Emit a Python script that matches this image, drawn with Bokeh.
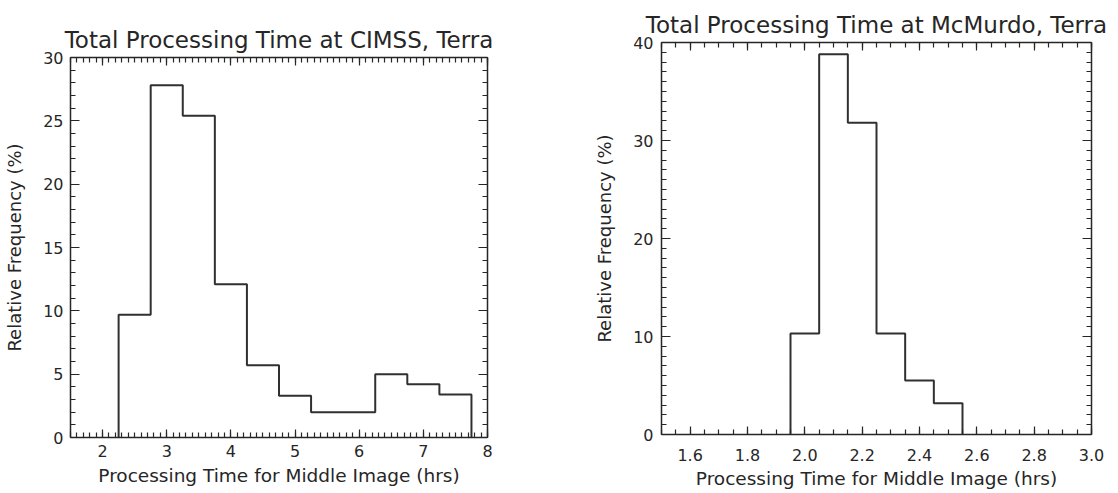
from bokeh.plotting import figure
from bokeh.layouts import row, column
from bokeh.models import (Range1d, SingleIntervalTicker, LinearAxis, Spacer,
                          CustomJSTickFormatter, PrintfTickFormatter)
from bokeh.embed import file_html
from bokeh.resources import INLINE
import numpy as np

# ---- data ----
cimss_edges = [2.25, 2.75, 3.25, 3.75, 4.25, 4.75, 5.25, 5.75, 6.25, 6.75, 7.25, 7.75]
cimss_freq = [9.7, 27.8, 25.4, 12.1, 5.7, 3.3, 2.0, 2.0, 5.0, 4.2, 3.4]

mcm_edges = [1.95, 2.05, 2.15, 2.25, 2.35, 2.45, 2.55]
mcm_freq = [10.3, 38.8, 31.8, 10.3, 5.5, 3.2]

title_left = "Total Processing Time at CIMSS, Terra"
title_right = "Total Processing Time at McMurdo, Terra"
x_label = "Processing Time for Middle Image (hrs)"
y_label = "Relative Frequency (%)"

FONT = "DejaVu Sans"
INK = "#262626"


def stairs(edges, vals):
    xs = np.repeat(np.asarray(edges, float), 2)
    ys = np.concatenate([[0.0], np.repeat(np.asarray(vals, float), 2), [0.0]])
    return xs, ys


def style_axis(ax, major_in, minor_in):
    ax.major_tick_in = major_in
    ax.major_tick_out = 0
    ax.minor_tick_in = minor_in
    ax.minor_tick_out = 0
    ax.axis_line_color = INK
    ax.axis_line_width = 1.5
    ax.major_tick_line_color = INK
    ax.minor_tick_line_color = INK
    ax.major_tick_line_width = 1.2
    ax.minor_tick_line_width = 1.2


def make(edges, vals, xr, yr, xint, xminor, yint, yminor, title, fw, fh,
         bl, br, bt, bb, xfmt, ylab_stand, yt_stand, xt_stand, xlab_stand):
    p = figure(frame_width=fw, frame_height=fh,
               x_range=Range1d(*xr), y_range=Range1d(*yr),
               output_backend="svg", toolbar_location=None,
               min_border_left=bl, min_border_right=br,
               min_border_top=bt, min_border_bottom=bb,
               title=title)
    p.grid.visible = False
    p.outline_line_color = None
    p.background_fill_color = "white"
    p.border_fill_color = "white"

    p.title.text_font = FONT
    p.title.text_font_size = "23px"
    p.title.text_font_style = "normal"
    p.title.text_color = INK
    p.title.align = "center"
    p.title.standoff = 10

    xt = SingleIntervalTicker(interval=xint, num_minor_ticks=xminor)
    yt = SingleIntervalTicker(interval=yint, num_minor_ticks=yminor)

    xa = p.xaxis[0]
    xa.ticker = xt
    if xfmt:
        xa.formatter = PrintfTickFormatter(format=xfmt)
    xa.axis_label = x_label
    xa.axis_label_text_font = FONT
    xa.axis_label_text_font_size = "18.5px"
    xa.axis_label_text_font_style = "normal"
    xa.axis_label_text_color = INK
    xa.axis_label_standoff = xlab_stand
    xa.major_label_text_font = FONT
    xa.major_label_text_font_size = "16px"
    xa.major_label_text_color = INK
    xa.major_label_standoff = xt_stand
    style_axis(xa, 8, 5)

    ya = p.yaxis[0]
    ya.ticker = yt
    ya.axis_label = y_label
    ya.axis_label_text_font = FONT
    ya.axis_label_text_font_size = "18px"
    ya.axis_label_text_font_style = "normal"
    ya.axis_label_text_color = INK
    ya.axis_label_standoff = ylab_stand
    ya.major_label_text_font = FONT
    ya.major_label_text_font_size = "16px"
    ya.major_label_text_color = INK
    ya.major_label_standoff = yt_stand
    style_axis(ya, 9, 5)

    blank = CustomJSTickFormatter(code="return ''")
    top = LinearAxis(ticker=SingleIntervalTicker(interval=xint, num_minor_ticks=xminor),
                     formatter=blank, major_label_standoff=0,
                     major_label_text_font_size="1px")
    style_axis(top, 8, 5)
    p.add_layout(top, "above")
    right = LinearAxis(ticker=SingleIntervalTicker(interval=yint, num_minor_ticks=yminor),
                       formatter=blank, major_label_standoff=0,
                       major_label_text_font_size="1px")
    style_axis(right, 9, 5)
    p.add_layout(right, "right")

    xs, ys = stairs(edges, vals)
    p.line(xs, ys, line_color="#303030", line_width=2)
    return p


# left panel: frame x 70..487, y 57..437
p1 = make(cimss_edges, cimss_freq, (1.5, 8.0), (0, 30), 1, 10, 5, 5, title_left,
          417, 380, 70, 30, 57, 52, None, 15, 7, 7, 5)
# right panel (placed 3px lower): frame x 661..1091, y 42..434
p2 = make(mcm_edges, mcm_freq, (1.5, 3.0), (0, 40), 0.2, 4, 10, 10, title_right,
          430, 392, 144, 24, 39, 58, "%.1f", 15, 8, 14, 4)

layout = row(p1, column(Spacer(width=10, height=3), p2))
open("out.html", "w").write(file_html(layout, INLINE))
